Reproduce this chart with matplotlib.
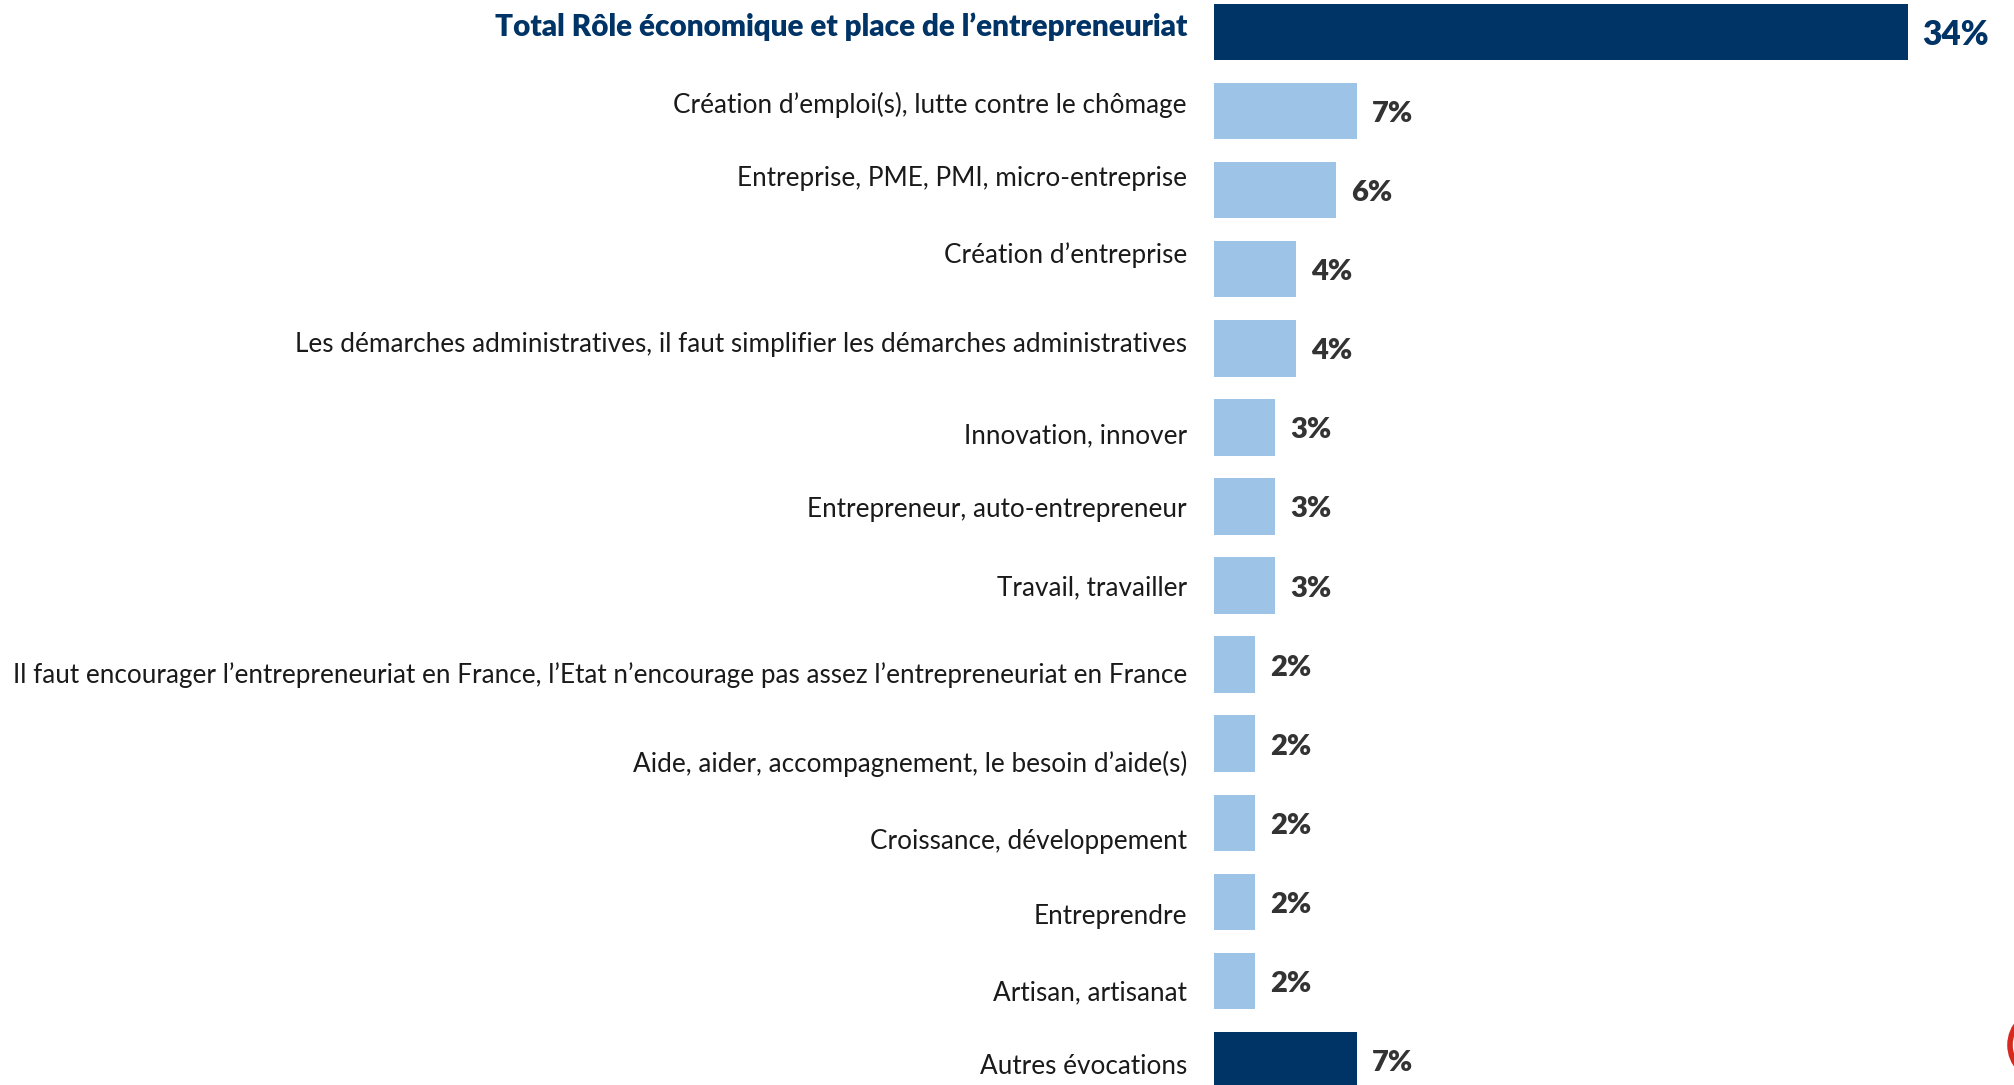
import numpy as np
import matplotlib.pyplot as plt
from matplotlib.patches import Ellipse

plt.rcParams['font.family'] = ['Lato', 'DejaVu Sans']

labels = [
    "Total Rôle économique et place de l’entrepreneuriat",
    "Création d’emploi(s), lutte contre le chômage",
    "Entreprise, PME, PMI, micro-entreprise",
    "Création d’entreprise",
    "Les démarches administratives, il faut simplifier les démarches administratives",
    "Innovation, innover",
    "Entrepreneur, auto-entrepreneur",
    "Travail, travailler",
    "Il faut encourager l’entrepreneuriat en France, l’Etat n’encourage pas assez l’entrepreneuriat en France",
    "Aide, aider, accompagnement, le besoin d’aide(s)",
    "Croissance, développement",
    "Entreprendre",
    "Artisan, artisanat",
    "Autres évocations",
]
values = [34, 7, 6, 4, 4, 3, 3, 3, 2, 2, 2, 2, 2, 7]
is_total = [True] + [False] * 12 + [True]

# small vertical shifts of the category texts (in bar units)
label_nudge = [-0.05, -0.08, -0.15, -0.18, -0.05, 0.10, 0.03, 0.02,
               0.13, 0.26, 0.23, 0.18, 0.15, 0.08]

navy = '#003366'
light = '#9DC3E6'

fig = plt.figure(figsize=(20.15, 10.85), dpi=100)
ax = fig.add_axes([1214 / 2015, 0, 1 - 1214 / 2015, 1])

y = np.arange(len(values))
colors = [navy if t else light for t in is_total]
ax.barh(y, values, height=0.714, color=colors, edgecolor='none')

ax.set_xlim(0, (2015 - 1214) / 20.4)
ax.set_ylim(13.316, -0.405)
ax.axis('off')

for i, (lab, v, t) in enumerate(zip(labels, values, is_total)):
    first = i == 0
    ax.annotate(lab, xy=(0, i + 0.1 + label_nudge[i]), xytext=(-27, 0),
                textcoords='offset pixels', ha='right', va='baseline',
                fontsize=21.3 if first else 18.85,
                color=navy if first else '#1a1a1a',
                fontweight='heavy' if first else 'normal',
                annotation_clip=False)
    ax.annotate(f"{v}%", xy=(v, i), xytext=(15, -3),
                textcoords='offset pixels', ha='left', va='center',
                fontsize=24 if first else 21, fontweight='heavy',
                color=navy if first else '#333333',
                annotation_clip=False)

# logo fragment in the corner
fig.patches.append(Ellipse((2045, 40), 70, 70, transform=None,
                           fill=False, edgecolor='#d42a20', linewidth=4))

fig.savefig('out.png', dpi=100)
